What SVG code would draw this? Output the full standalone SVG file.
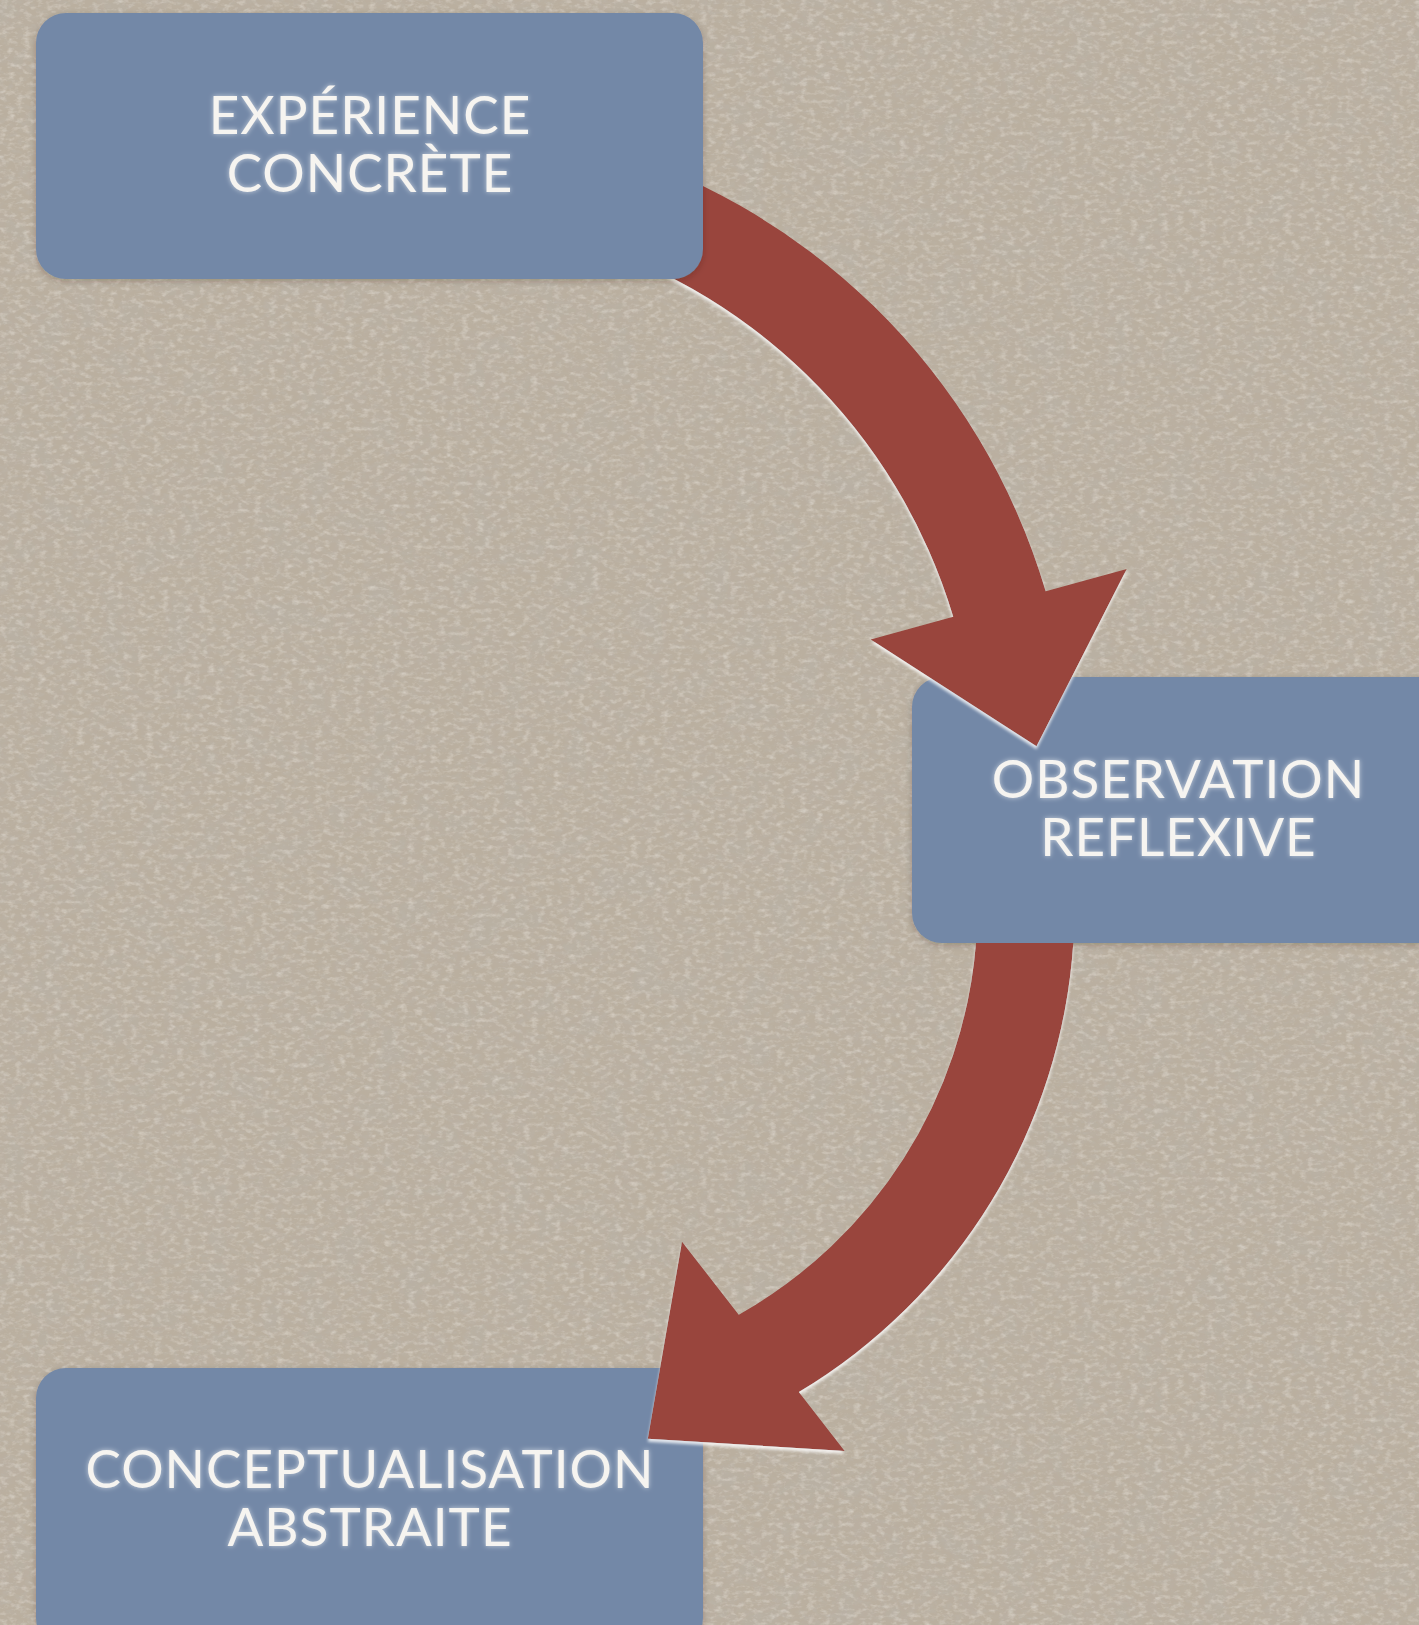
<svg xmlns="http://www.w3.org/2000/svg" width="1419" height="1625" viewBox="0 0 1419 1625">
  <style>
    .box { fill: #7388a7; filter: url(#boxShadow); }
    .label { font-family: "Lato", "Noto Sans", "DejaVu Sans", sans-serif; font-size: 53px; letter-spacing: 1px; fill: #f6f4f0; text-anchor: middle; filter: url(#textGlow); }
    .arrow { fill: #99453c; filter: url(#arrowEdge); }
  </style>
  <defs>
    <!-- paper grain: dark blotches -->
    <filter id="grainDark" x="0" y="0" width="100%" height="100%" filterUnits="userSpaceOnUse">
      <feTurbulence type="fractalNoise" baseFrequency="0.11 0.2" numOctaves="3" seed="7" result="n"/>
      <feColorMatrix in="n" type="matrix" values="0 0 0 0 0.50  0 0 0 0 0.46  0 0 0 0 0.40  1.5 0 0 0 -0.66" result="c"/>
      <feGaussianBlur in="c" stdDeviation="0.7"/>
    </filter>
    <!-- paper grain: light fibres -->
    <filter id="grainLight" x="0" y="0" width="100%" height="100%" filterUnits="userSpaceOnUse">
      <feTurbulence type="fractalNoise" baseFrequency="0.13 0.22" numOctaves="3" seed="19" result="n"/>
      <feColorMatrix in="n" type="matrix" values="0 0 0 0 0.84  0 0 0 0 0.80  0 0 0 0 0.74  -1.1 0 0 0 0.58" result="c"/>
      <feGaussianBlur in="c" stdDeviation="0.7"/>
    </filter>
    <!-- soft mottling -->
    <filter id="mottle" x="0" y="0" width="100%" height="100%" filterUnits="userSpaceOnUse">
      <feTurbulence type="fractalNoise" baseFrequency="0.03" numOctaves="3" seed="4" result="n"/>
      <feColorMatrix in="n" type="matrix" values="0 0 0 0 0.48  0 0 0 0 0.44  0 0 0 0 0.39  1.2 0 0 0 -0.5"/>
    </filter>
    <filter id="textGlow" x="-10%" y="-40%" width="120%" height="180%">
      <feGaussianBlur in="SourceAlpha" stdDeviation="2.5" result="b"/>
      <feFlood flood-color="#ffffff" flood-opacity="0.6"/>
      <feComposite in2="b" operator="in" result="glow"/>
      <feMerge>
        <feMergeNode in="glow"/>
        <feMergeNode in="SourceGraphic"/>
      </feMerge>
    </filter>
    <filter id="arrowEdge" x="-10%" y="-10%" width="120%" height="120%">
      <feDropShadow dx="0" dy="3" stdDeviation="1.6" flood-color="#ffffff" flood-opacity="0.8"/>
    </filter>
    <filter id="boxShadow" x="-10%" y="-10%" width="120%" height="120%">
      <feDropShadow dx="0" dy="2" stdDeviation="3" flood-color="#2a1a10" flood-opacity="0.25"/>
    </filter>
  </defs>

  <!-- background paper -->
  <rect width="1419" height="1625" fill="#baaf9f"/>
  <rect width="1419" height="1625" filter="url(#mottle)"/>
  <rect width="1419" height="1625" filter="url(#grainDark)"/>
  <rect width="1419" height="1625" filter="url(#grainLight)"/>

  <g id="node-conceptualisation">
    <rect class="box" x="36" y="1368" width="667" height="280" rx="30"/>
    <text class="label" x="370" y="1488">CONCEPTUALISATION</text>
    <text class="label" x="370" y="1546">ABSTRAITE</text>
  </g>

  <g id="node-observation">
    <rect class="box" x="912" y="677" width="667" height="266" rx="30"/>
    <text class="label" x="1178.5" y="798">OBSERVATION</text>
    <text class="label" x="1178.5" y="856">REFLEXIVE</text>
  </g>

  <g id="connectors">
    <!-- experience -> observation -->
    <path class="arrow" d="M 584.9,141.8 A 658 658 0 0 1 1045.7,591.3 L 1126.7,569 L 1036.5,746.3 L 870.7,639.5 L 953.2,616.8 A 562 562 0 0 0 560.1,234.5 Z"/>
    <!-- observation -> conceptualisation -->
    <path class="arrow" d="M 1073.3,943 A 567 567 0 0 1 798.9,1392 L 844.7,1451 L 647.8,1438.7 L 682,1241.7 L 738.8,1314.7 A 470 470 0 0 0 976,943 Z"/>
  </g>

  <g id="node-experience">
    <rect class="box" x="36" y="13" width="667" height="266" rx="30"/>
    <text class="label" x="370" y="134">EXPÉRIENCE</text>
    <text class="label" x="370" y="192">CONCRÈTE</text>
  </g>
</svg>
